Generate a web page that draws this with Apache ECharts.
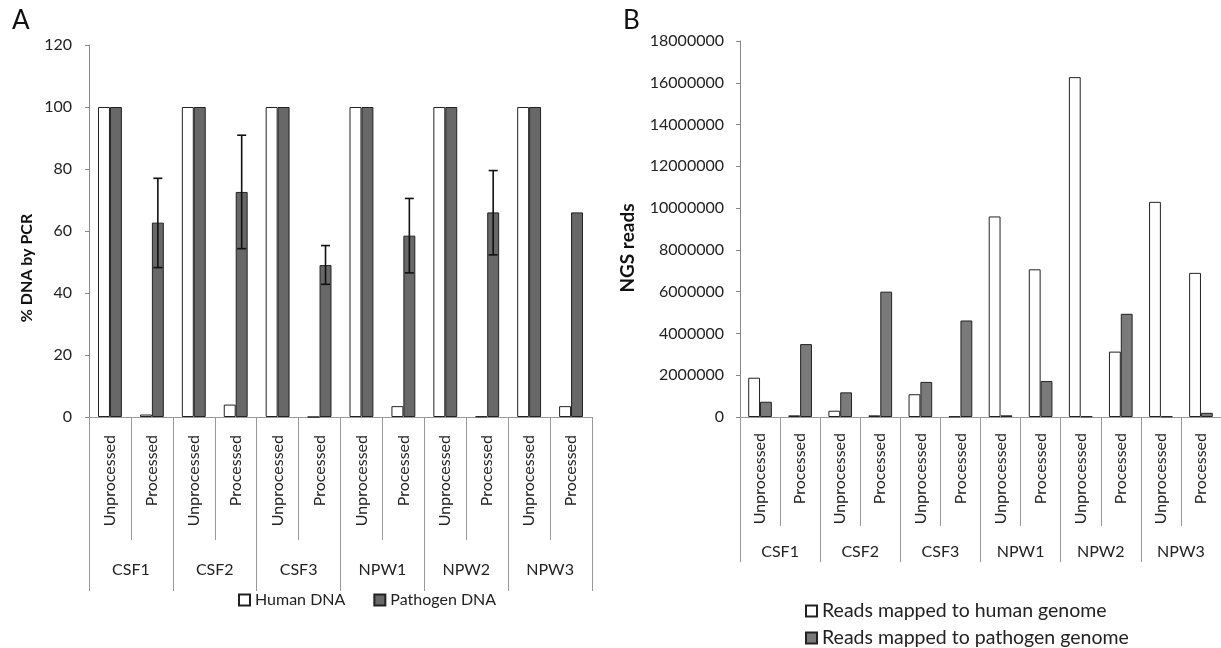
<!DOCTYPE html>
<html>
<head>
<meta charset="utf-8">
<script src="https://cdn.jsdelivr.net/npm/echarts@6/dist/echarts.min.js"></script>
<style>html,body{margin:0;padding:0;background:#fff}#c{width:1221px;height:648px}</style>
</head>
<body>
<div id="c"></div>
<script>
const categories = ['Unprocessed','Processed','Unprocessed','Processed','Unprocessed','Processed','Unprocessed','Processed','Unprocessed','Processed','Unprocessed','Processed'];
const groups = ['CSF1','CSF2','CSF3','NPW1','NPW2','NPW3'];
const humanPCR = [100,0.8,100,4,100,0,100,3.5,100,0.2,100,3.5];
const pathogenPCR = [100,62.7,100,72.6,100,49,100,58.5,100,66,100,66];
// [category index, low, high]
const errorBars = [[1,48.2,77],[3,54.3,90.9],[5,42.8,55.3],[7,46.5,70.5],[9,52.3,79.5]];
const humanReads = [1880000,80000,300000,80000,1090000,30000,9600000,7070000,16270000,3130000,10300000,6900000];
const pathogenReads = [730000,3490000,1180000,6000000,1680000,4620000,80000,1720000,30000,4940000,30000,200000];

const FONT = 'Lato';
const GAP = 0.43;

function errorRender(params, api){
  const cw = api.size([1,0])[0];
  const off = cw*(1-GAP)/4;
  const lo = api.coord([api.value(0), api.value(1)]);
  const hi = api.coord([api.value(0), api.value(2)]);
  const x = lo[0] + off;
  const cap = 4.5;
  const st = {stroke:'#111', lineWidth:1.6};
  return {type:'group', children:[
    {type:'line', shape:{x1:x,y1:lo[1],x2:x,y2:hi[1]}, style:st},
    {type:'line', shape:{x1:x-cap,y1:lo[1],x2:x+cap,y2:lo[1]}, style:st},
    {type:'line', shape:{x1:x-cap,y1:hi[1],x2:x+cap,y2:hi[1]}, style:st}
  ]};
}

function subAxis(grid, tickLen, labelMargin){
  return {type:'category', gridIndex:grid, position:'bottom', data:categories,
    axisLine:{lineStyle:{color:'#999', width:1}},
    axisTick:{show:true, length:tickLen, lineStyle:{color:'#999'}},
    axisLabel:{rotate:90, margin:labelMargin, fontFamily:FONT, fontSize:16, color:'#222'}};
}
function groupAxis(grid, tickLen, labelMargin){
  return {type:'category', gridIndex:grid, position:'bottom', data:groups,
    axisLine:{show:false},
    axisTick:{show:true, length:tickLen, lineStyle:{color:'#999'}},
    axisLabel:{margin:labelMargin, fontFamily:FONT, fontSize:16, color:'#222'}};
}
const legendText = {fontFamily:FONT, fontSize:16, color:'#222'};
const legendTextB = {fontFamily:FONT, fontSize:19.5, color:'#222'};

const chart = echarts.init(document.getElementById('c'), null, {renderer:'canvas'});
chart.setOption({
  animation:false,
  backgroundColor:'#fff',
  grid:[
    {left:89, top:45, width:503, height:372},
    {left:740, top:41, width:489, height:376}
  ],
  xAxis:[
    subAxis(0,123,18),
    groupAxis(0,174,145),
    subAxis(1,109,16),
    groupAxis(1,145,127)
  ],
  yAxis:[
    {type:'value', gridIndex:0, min:0, max:120, interval:20,
      axisLine:{show:true, lineStyle:{color:'#888'}},
      axisTick:{show:true, length:4, lineStyle:{color:'#888'}},
      splitLine:{show:false},
      axisLabel:{margin:17, fontFamily:FONT, fontSize:16, color:'#222'}},
    {type:'value', gridIndex:1, min:0, max:18000000, interval:2000000,
      axisLine:{show:true, lineStyle:{color:'#888'}},
      axisTick:{show:true, length:4, lineStyle:{color:'#888'}},
      splitLine:{show:false},
      axisLabel:{margin:16, fontFamily:FONT, fontSize:16, color:'#222', formatter:function(v){return String(v);}}}
  ],
  legend:[
    {data:['Human DNA','Pathogen DNA'], left:233, top:587, icon:'rect', itemWidth:11, itemHeight:11, itemGap:28,
      textStyle:legendText},
    {data:['Reads mapped to human genome'], left:800, top:596, icon:'rect', itemWidth:11, itemHeight:11,
      textStyle:legendTextB},
    {data:['Reads mapped to pathogen genome'], left:800, top:623, icon:'rect', itemWidth:11, itemHeight:11,
      textStyle:legendTextB}
  ],
  graphic:[
    {type:'text', x:12, y:8, style:{text:'A', font:'26px '+FONT, fill:'#111'}},
    {type:'text', x:623, y:8, style:{text:'B', font:'26px '+FONT, fill:'#111'}},
    {type:'text', x:27, y:268, rotation:Math.PI/2, style:{text:'% DNA by PCR', font:'bold 16px '+FONT, fill:'#111', textAlign:'center', textVerticalAlign:'middle'}},
    {type:'text', x:628, y:248, rotation:Math.PI/2, style:{text:'NGS reads', font:'bold 19px '+FONT, fill:'#111', textAlign:'center', textVerticalAlign:'middle'}}
  ],
  series:[
    {name:'Human DNA', type:'bar', xAxisIndex:0, yAxisIndex:0, data:humanPCR, barGap:'0%', barCategoryGap:(GAP*100)+'%',
      itemStyle:{color:'#ffffff', borderColor:'#222', borderWidth:1}},
    {name:'Pathogen DNA', type:'bar', xAxisIndex:0, yAxisIndex:0, data:pathogenPCR, barGap:'0%', barCategoryGap:(GAP*100)+'%',
      itemStyle:{color:'#686868', borderColor:'#222', borderWidth:1}},
    {name:'errors', type:'custom', xAxisIndex:0, yAxisIndex:0, data:errorBars, renderItem:errorRender, z:5},
    {name:'Reads mapped to human genome', type:'bar', xAxisIndex:2, yAxisIndex:1, data:humanReads, barGap:'0%', barCategoryGap:'41%',
      itemStyle:{color:'#ffffff', borderColor:'#222', borderWidth:1}},
    {name:'Reads mapped to pathogen genome', type:'bar', xAxisIndex:2, yAxisIndex:1, data:pathogenReads, barGap:'0%', barCategoryGap:'41%',
      itemStyle:{color:'#7a7a7a', borderColor:'#222', borderWidth:1}}
  ]
});
</script>
</body>
</html>
